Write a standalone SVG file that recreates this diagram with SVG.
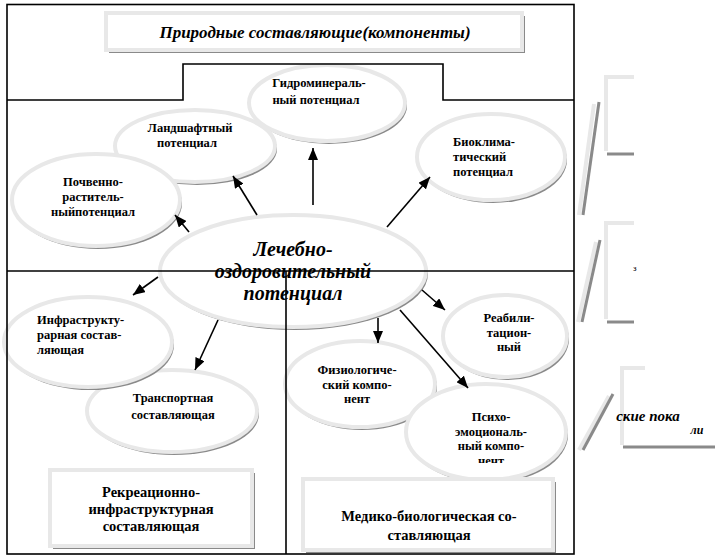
<svg xmlns="http://www.w3.org/2000/svg" width="715" height="557" viewBox="0 0 715 557">
<style>
.frame{stroke:#000;stroke-width:1.6;fill:none}
.sh{fill:#8a8a8a}
.el{fill:#fff;stroke:#e8e8e8;stroke-width:4}
.bx{fill:#fff;stroke:#e8e8e8;stroke-width:4}
.lg{stroke:#e8e8e8;stroke-width:4;fill:none}
.dk{stroke:#8a8a8a;stroke-width:3;fill:none}
text{font-family:'Liberation Serif',Tinos,'Noto Serif','DejaVu Serif',FreeSerif,'Times New Roman',serif;fill:#000}
.t{font-weight:bold;font-size:12.5px;text-anchor:middle}
.ts{text-anchor:start}
.tb{font-weight:bold;font-size:14.5px;text-anchor:middle}
.ti{font-weight:bold;font-style:italic;text-anchor:middle}
.ar{stroke:#000;stroke-width:1.6;fill:none;marker-end:url(#ah)}
</style>
<defs>
<marker id="ah" viewBox="0 0 12 10" refX="12" refY="5" markerWidth="12" markerHeight="10" markerUnits="userSpaceOnUse" orient="auto">
<path d="M0,0 L12,5 L0,10 z" fill="#000"/>
</marker>
<clipPath id="cPsy"><rect x="400" y="380" width="180" height="83"/></clipPath>
<clipPath id="cC"><rect x="600" y="411" width="115" height="40"/></clipPath>
</defs>
<rect width="715" height="557" fill="#fff"/>

<g id="node-gidro">
<ellipse class="sh" cx="329" cy="106" rx="78" ry="38"/>
<ellipse class="el" cx="327" cy="103" rx="78" ry="38"/>
</g>
<g id="node-landshaft">
<ellipse class="sh" cx="197" cy="149" rx="80" ry="36"/>
<ellipse class="el" cx="195" cy="146" rx="80" ry="36"/>
</g>
<g id="node-pochv">
<ellipse class="sh" cx="98" cy="203" rx="84" ry="46"/>
<ellipse class="el" cx="96" cy="200" rx="84" ry="46"/>
</g>
<g id="node-bioklim">
<ellipse class="sh" cx="493" cy="160" rx="74" ry="43"/>
<ellipse class="el" cx="491" cy="157" rx="74" ry="43"/>
</g>
<g id="node-center">
<ellipse class="sh" cx="295" cy="274" rx="133" ry="56"/>
<ellipse class="el" cx="293" cy="271" rx="133" ry="56"/>
</g>
<g id="node-transport">
<ellipse class="sh" cx="174" cy="414" rx="85" ry="41"/>
<ellipse class="el" cx="172" cy="411" rx="85" ry="41"/>
</g>
<g id="node-infra">
<ellipse class="sh" cx="90" cy="345" rx="84" ry="45"/>
<ellipse class="el" cx="88" cy="342" rx="84" ry="45"/>
</g>
<g id="node-reabil">
<ellipse class="sh" cx="507" cy="339" rx="62" ry="41"/>
<ellipse class="el" cx="505" cy="336" rx="62" ry="41"/>
</g>
<g id="node-fiziol">
<ellipse class="sh" cx="362" cy="387" rx="75" ry="43"/>
<ellipse class="el" cx="360" cy="384" rx="75" ry="43"/>
</g>
<g id="node-psycho">
<ellipse class="sh" cx="488" cy="435" rx="80" ry="48"/>
<ellipse class="el" cx="486" cy="432" rx="80" ry="48"/>
</g>

<g id="frame">
<rect class="frame" x="7" y="4.5" width="567" height="549.5"/>
<polyline class="frame" points="7,100 183,100 183,64 443,64 443,100 574,100"/>
<line class="frame" x1="7" y1="271" x2="574" y2="271"/>
<line class="frame" x1="286" y1="271" x2="286" y2="554"/>
</g>

<g id="node-title">
<rect class="sh" x="109" y="16" width="416" height="37"/>
<rect class="bx" x="106" y="13" width="416" height="37"/>
<text class="ti" x="315" y="38" font-size="17">Природные составляющие(компоненты)</text>
</g>
<g id="node-rekr">
<rect class="sh" x="53" y="473" width="202" height="76"/>
<rect class="bx" x="50" y="470" width="202" height="76"/>
<text class="tb" x="151" y="497">Рекреационно-</text>
<text class="tb" x="151" y="514">инфраструктурная</text>
<text class="tb" x="151" y="531">составляющая</text>
</g>
<g id="node-mediko">
<rect class="sh" x="306" y="482" width="250" height="71"/>
<rect class="bx" x="303" y="479" width="250" height="71"/>
<text class="tb" x="429" y="521">Медико-биологическая со-</text>
<text class="tb" x="429" y="540">ставляющая</text>
</g>

<g id="labels">
<text class="t" x="319" y="87">Гидроминераль-</text>
<text class="t" x="316" y="104">ный потенциал</text>
<text class="t" x="190" y="132">Ландшафтный</text>
<text class="t" x="187" y="147">потенциал</text>
<text class="t" x="93" y="186">Почвенно-</text>
<text class="t" x="93" y="201">раститель-</text>
<text class="t" x="93" y="216">ныйпотенциал</text>
<text class="t ts" x="453" y="146">Биоклима-</text>
<text class="t ts" x="453" y="161">тический</text>
<text class="t ts" x="453" y="176">потенциал</text>
<text class="ti" x="293" y="256" font-size="20">Лечебно-</text>
<text class="ti" x="293" y="278" font-size="20">оздоровительный</text>
<text class="ti" x="293" y="300" font-size="20">потенциал</text>
<text class="t ts" x="37" y="324">Инфраструкту-</text>
<text class="t ts" x="37" y="339">рарная состав-</text>
<text class="t ts" x="37" y="354">ляющая</text>
<text class="t" x="173" y="402">Транспортная</text>
<text class="t" x="173" y="419">составляющая</text>
<text class="t" x="509" y="322">Реабили-</text>
<text class="t" x="509" y="337">тацион-</text>
<text class="t" x="509" y="351">ный</text>
<text class="t" x="357" y="374">Физиологиче-</text>
<text class="t" x="357" y="389">ский компо-</text>
<text class="t" x="357" y="403">нент</text>
<text class="t" x="491" y="421">Психо-</text>
<text class="t" x="491" y="436">эмоциональ-</text>
<text class="t" x="491" y="450">ный компо-</text>
<text class="t" x="491" y="465" clip-path="url(#cPsy)">нент</text>
</g>

<g id="connectors">
<line class="ar" x1="189" y1="232" x2="175" y2="215"/>
<line class="ar" x1="257" y1="215" x2="233" y2="176"/>
<line class="ar" x1="313" y1="205" x2="313" y2="148"/>
<line class="ar" x1="387" y1="227" x2="430" y2="177"/>
<line class="ar" x1="158" y1="277" x2="133" y2="295"/>
<line class="ar" x1="218" y1="320" x2="195" y2="370"/>
<line class="ar" x1="422" y1="290" x2="445" y2="310"/>
<line class="ar" x1="378" y1="318" x2="378" y2="343"/>
<line class="ar" x1="400" y1="310" x2="468" y2="388"/>
</g>

<g id="right-fragments">
<polyline class="lg" points="634,77 606,77 606,151"/>
<line class="dk" x1="607" y1="154" x2="634" y2="154"/>
<line class="lg" x1="594" y1="104" x2="579" y2="215"/>
<line class="dk" x1="599" y1="102" x2="583" y2="215"/>
<polyline class="lg" points="634,223 606,223 606,319"/>
<line class="dk" x1="607" y1="322" x2="634" y2="322"/>
<line class="lg" x1="596" y1="242" x2="578" y2="322"/>
<line class="dk" x1="600" y1="240" x2="582" y2="322"/>
<text x="633" y="271" font-size="9">з</text>
<polyline class="lg" points="645,368 622,368 622,445"/>
<line class="dk" x1="623" y1="447" x2="715" y2="447"/>
<line class="lg" x1="609" y1="396" x2="579" y2="450"/>
<line class="dk" x1="613" y1="394" x2="583" y2="450"/>
<g clip-path="url(#cC)">
<text class="ti ts" x="648" y="421" font-size="15">ские пока</text>
<text class="ti ts" x="697" y="434" font-size="12">ли</text>
</g>
</g>
</svg>
